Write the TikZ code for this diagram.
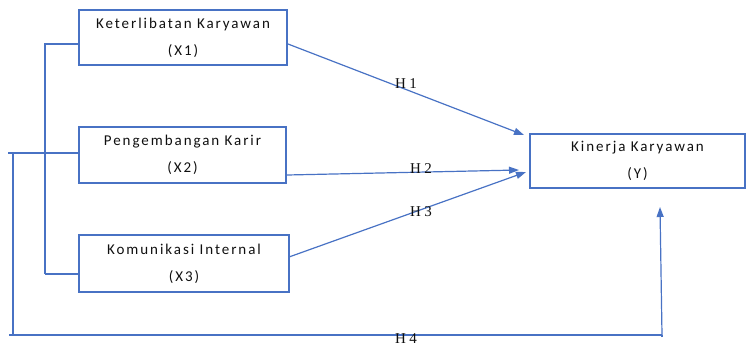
\documentclass[tikz,border=0pt]{standalone}
\usepackage{fontspec}
\setmainfont{Carlito}
\newfontfamily\boxfont[LetterSpace=13]{Carlito}
\newfontfamily\hfont[LetterSpace=22]{Liberation Serif}
\usetikzlibrary{arrows.meta}
\definecolor{lineblue}{RGB}{72,114,196}
\definecolor{txt}{RGB}{15,15,15}
\tikzset{
  ln/.style={draw=lineblue, line width=1.2pt},
  arr/.style={ln, -{Triangle[length=10pt,width=7pt]}},
  varbox/.style={draw=lineblue, line width=1.2pt, rectangle, inner sep=0pt, align=center,
    text=txt, font=\boxfont\fontsize{15}{27}\selectfont},
  hlab/.style={text=txt, font=\hfont\fontsize{15}{15}\selectfont, inner sep=0pt}
}
\begin{document}
\begin{tikzpicture}[x=1pt,y=-1pt]
\useasboundingbox (0,0) rectangle (747,354);
% boxes
\node[varbox, minimum width=208pt, minimum height=55pt] (x1) at (183,37.5) {Keterlibatan Karyawan\\(X1)};
\node[varbox, minimum width=207pt, minimum height=56pt] (x2) at (182.5,155) {Pengembangan Karir\\(X2)};
\node[varbox, minimum width=210pt, minimum height=57pt] (x3) at (184,263.5) {Komunikasi Internal\\(X3)};
\node[varbox, minimum width=215pt, minimum height=54pt] (y) at (637.5,161) {Kinerja Karyawan\\(Y)};
% coordinates
\coordinate (b1) at (44,44);
\coordinate (b3) at (45,274);
\coordinate (o0) at (8,153);
\coordinate (o1) at (13,153);
\coordinate (o2) at (13,336);
\coordinate (o3) at (9,335);
\coordinate (o4) at (662,335);
\coordinate (o5) at (662,337);
\coordinate (h4end) at (660,207);
\coordinate (h1s) at (288,44);
\coordinate (h1e) at (524,135);
\coordinate (h2s) at (287,175);
\coordinate (h2e) at (519,170);
\coordinate (h3s) at (289,257);
\coordinate (h3e) at (526,172);
% left bracket
\draw[ln] (x1.west |- b1) -- (b1);
\draw[ln] (45,44) -- (b3);
\draw[ln] (b3) -- (x3.west |- b3);
% outer H4 path
\draw[ln] (o0) -- (x2.west |- o0);
\draw[ln] (o1) -- (o2);
\draw[ln] (o3) -- (o4);
\draw[ln] (o5) -- (o4);
\draw[arr] (o4) -- (h4end);
% hypothesis arrows
\draw[arr] (h1s) -- (h1e);
\draw[arr] (h2s) -- (h2e);
\draw[arr] (h3s) -- (h3e);
% labels
\node[hlab] (lh1) at (406,84) {H1};
\node[hlab] (lh2) at (421,169) {H2};
\node[hlab] (lh3) at (421,212) {H3};
\node[hlab] (lh4) at (406,339) {H4};
\end{tikzpicture}
\end{document}
